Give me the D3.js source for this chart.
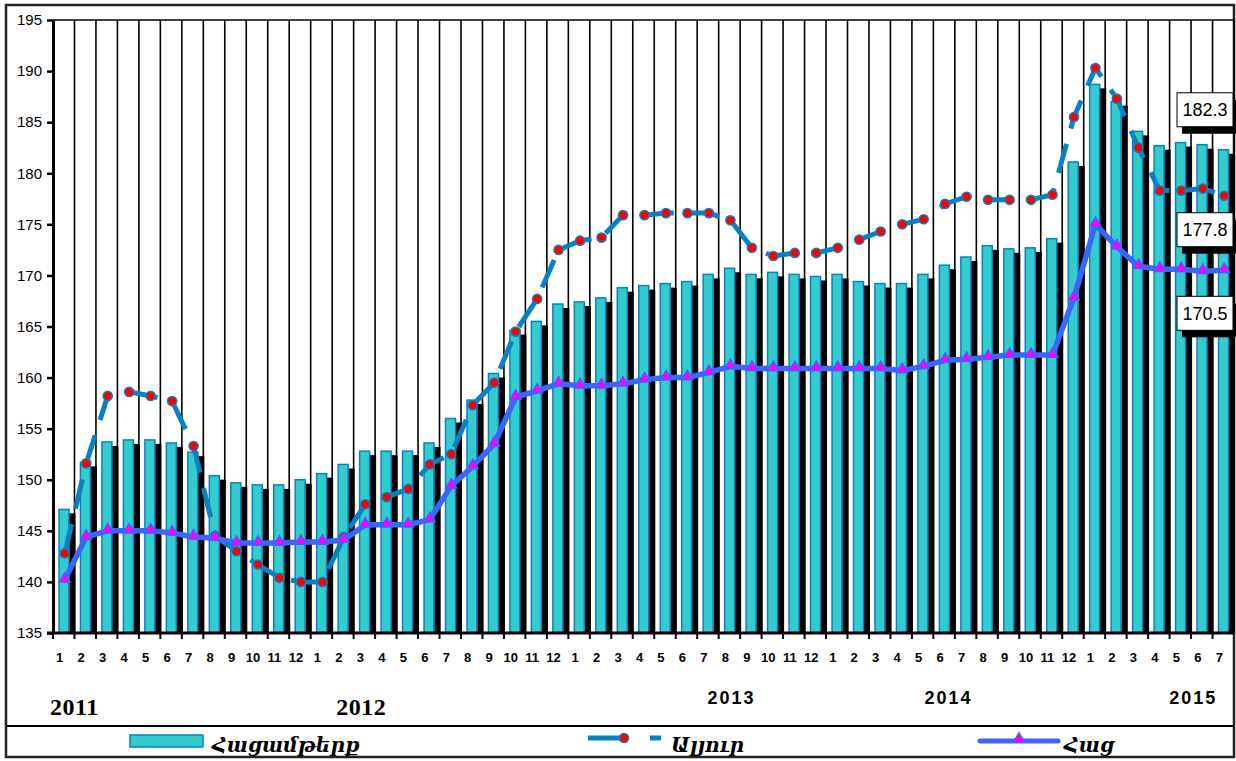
<!DOCTYPE html>
<html>
<head>
<meta charset="utf-8">
<script src="https://cdn.jsdelivr.net/npm/d3@7"></script>
<style>
  body { margin: 0; background: #fff; }
  svg { display: block; }
</style>
</head>
<body>
<svg id="chart" width="1236" height="761"></svg>
<script>
// months Jan 2011 .. Jul 2015
var months = [1,2,3,4,5,6,7,8,9,10,11,12, 1,2,3,4,5,6,7,8,9,10,11,12,
              1,2,3,4,5,6,7,8,9,10,11,12, 1,2,3,4,5,6,7,8,9,10,11,12,
              1,2,3,4,5,6,7];
var years = ["2011", "2012", "2013", "2014", "2015"];

// Հացամթերք (bars)
var bakery = [147.1,151.7,153.7,153.9,153.9,153.6,152.7,150.4,149.7,149.5,149.5,150.0,
              150.6,151.5,152.8,152.8,152.8,153.6,156.0,157.8,160.4,164.6,165.5,167.2,
              167.4,167.8,168.8,169.0,169.2,169.4,170.1,170.7,170.1,170.3,170.1,169.9,
              170.1,169.4,169.2,169.2,170.1,171.0,171.8,172.9,172.6,172.7,173.6,181.1,
              188.7,187.0,184.1,182.7,183.0,182.8,182.3];
// Ալյուր (dashed line)
var flour = [142.8,151.6,158.2,158.6,158.2,157.7,153.3,144.5,143.0,141.7,140.4,140.0,
             140.0,144.4,147.6,148.3,149.1,151.5,152.5,157.3,159.5,164.5,167.7,172.5,
             173.4,173.7,175.9,175.9,176.1,176.1,176.1,175.4,172.7,171.9,172.2,172.2,
             172.7,173.5,174.3,175.0,175.5,177.0,177.7,177.4,177.4,177.4,177.9,185.5,
             190.3,187.3,182.5,178.3,178.3,178.5,177.8];
// Հաց (solid line)
var bread = [140.2,144.4,145.0,145.0,145.0,144.8,144.4,144.3,143.8,143.8,143.8,143.9,
             143.9,144.1,145.6,145.6,145.6,146.1,149.4,151.3,153.5,158.1,158.7,159.4,
             159.2,159.2,159.4,159.8,160.0,160.0,160.5,161.1,160.9,160.9,160.9,160.9,
             160.9,160.9,160.9,160.7,161.1,161.7,161.8,162.0,162.2,162.2,162.2,167.8,
             175.0,172.8,170.9,170.6,170.6,170.4,170.5];
var seriesNames = ["Հացամթերք", "Ալյուր", "Հաց"];

var svg = d3.select("#chart");
var plotL = 53, plotR = 1234, plotT = 20, plotB = 633;

var x = d3.scaleBand()
    .domain(d3.range(months.length))
    .range([plotL, plotR]);
var y = d3.scaleLinear()
    .domain([135, 195])
    .range([plotB, plotT]);
var step = x.step();

var teal = "#33cccc", edge = "#0a80c4", flourCol = "#0a80c4", breadCol = "#3a66ff";

// outer frame + legend separator
svg.append("rect")
    .attr("x", 6).attr("y", 5).attr("width", 1228).attr("height", 752)
    .attr("fill", "#fff").attr("stroke", "#222").attr("stroke-width", 2.5);
svg.append("line")
    .attr("x1", 6).attr("x2", 1234).attr("y1", 726).attr("y2", 726)
    .attr("stroke", "#000").attr("stroke-width", 2);

// plot top + vertical grid at every month boundary
svg.append("line")
    .attr("x1", plotL).attr("x2", plotR).attr("y1", plotT).attr("y2", plotT)
    .attr("stroke", "#000").attr("stroke-width", 1.5);
svg.append("g").selectAll("line")
    .data(d3.range(1, months.length + 1))
  .enter().append("line")
    .attr("x1", function(i) { return plotL + i * step; })
    .attr("x2", function(i) { return plotL + i * step; })
    .attr("y1", plotT).attr("y2", plotB)
    .attr("stroke", "#000").attr("stroke-width", 1.6);

// bars with a black drop shadow
var barX = function(i) { return x(i) + 6; }, barW = 10;
svg.append("g").selectAll("rect")
    .data(bakery)
  .enter().append("rect")
    .attr("x", function(d, i) { return barX(i) + 6.5; })
    .attr("y", function(d) { return y(d) + 4; })
    .attr("width", barW)
    .attr("height", function(d) { return plotB - y(d) - 4; })
    .attr("fill", "#000");
svg.append("g").selectAll("rect")
    .data(bakery)
  .enter().append("rect")
    .attr("x", function(d, i) { return barX(i); })
    .attr("y", function(d) { return y(d); })
    .attr("width", barW)
    .attr("height", function(d) { return plotB - y(d); })
    .attr("fill", teal)
    .attr("stroke", edge).attr("stroke-width", 1.5);

var cx = function(i) { return x(i) + step / 2 + 1; };
var line = d3.line()
    .x(function(d, i) { return cx(i); })
    .y(function(d) { return y(d); });

// Ալյուր
svg.append("path")
    .datum(flour)
    .attr("d", line)
    .attr("fill", "none")
    .attr("stroke", flourCol).attr("stroke-width", 5)
    .attr("stroke-dasharray", "30,16");
svg.append("g").selectAll("circle")
    .data(flour)
  .enter().append("circle")
    .attr("cx", function(d, i) { return cx(i); })
    .attr("cy", function(d) { return y(d); })
    .attr("r", 4.6)
    .attr("fill", "#ff0000")
    .attr("stroke", flourCol).attr("stroke-width", 1.5);

// Հաց
svg.append("path")
    .datum(bread)
    .attr("d", line)
    .attr("fill", "none")
    .attr("stroke", breadCol).attr("stroke-width", 5.5)
    .attr("stroke-linejoin", "round");
var tri = d3.symbol().type(d3.symbolTriangle).size(55);
svg.append("g").selectAll("path")
    .data(bread)
  .enter().append("path")
    .attr("d", tri)
    .attr("transform", function(d, i) { return "translate(" + cx(i) + "," + (y(d) - 1) + ")"; })
    .attr("fill", "#ff00ff")
    .attr("stroke", breadCol).attr("stroke-width", 1.2);

// y axis
var yAxis = svg.append("g")
    .attr("transform", "translate(" + plotL + ",0)")
    .call(d3.axisLeft(y).tickValues(d3.range(135, 196, 5)).tickSize(6).tickPadding(5).tickSizeOuter(0));
yAxis.select(".domain").attr("stroke", "#000").attr("stroke-width", 3);
yAxis.selectAll(".tick line").attr("stroke-width", 2.5);
yAxis.selectAll("text")
    .attr("font-family", "Liberation Sans, Arial, sans-serif")
    .attr("font-size", 15)
    .attr("fill", "#000");

// x axis: ticks on month boundaries, labels under each month
svg.append("line")
    .attr("x1", plotL - 6).attr("x2", plotR).attr("y1", plotB).attr("y2", plotB)
    .attr("stroke", "#000").attr("stroke-width", 3);
svg.append("g").selectAll("line")
    .data(d3.range(months.length))
  .enter().append("line")
    .attr("x1", function(i) { return x(i); })
    .attr("x2", function(i) { return x(i); })
    .attr("y1", plotB).attr("y2", plotB + 6)
    .attr("stroke", "#000").attr("stroke-width", 2);
svg.append("g").selectAll("text")
    .data(months)
  .enter().append("text")
    .attr("x", function(d, i) { return cx(i) - 5; })
    .attr("y", 662)
    .attr("text-anchor", "middle")
    .attr("font-family", "Liberation Sans, Arial, sans-serif")
    .attr("font-size", 13)
    .attr("font-weight", "bold")
    .text(function(d) { return d; });

// year captions (hand placed in the original)
var yearAt = [0, 14.35, 31.6, 41.7, 53.1];
svg.append("g").selectAll("text")
    .data(years)
  .enter().append("text")
    .attr("x", function(d, i) { return i === 0 ? 50 : x(0) + yearAt[i] * step; })
    .attr("y", function(d, i) { return i < 2 ? 715 : 704; })
    .attr("text-anchor", function(d, i) { return i === 0 ? "start" : "middle"; })
    .attr("font-family", function(d, i) { return i < 2 ? "Liberation Serif, Times New Roman, serif" : "Liberation Sans, Arial, sans-serif"; })
    .attr("font-size", function(d, i) { return i < 2 ? 24 : 18; })
    .attr("letter-spacing", function(d, i) { return i < 2 ? 0.5 : 2; })
    .attr("font-weight", "bold")
    .text(function(d) { return d; });

// value boxes for the last month
var last = months.length - 1;
var boxes = [
  {v: bakery[last], dy: -57},
  {v: flour[last], dy: 17},
  {v: bread[last], dy: 26}
];
var bx = 1177, bw = 56, bh = 34;
var box = svg.append("g").selectAll("g")
    .data(boxes)
  .enter().append("g")
    .attr("transform", function(d) { return "translate(" + bx + "," + (y(d.v) + d.dy) + ")"; });
box.append("rect")
    .attr("x", 5).attr("y", 7).attr("width", bw).attr("height", bh)
    .attr("fill", "#000");
box.append("rect")
    .attr("width", bw).attr("height", bh)
    .attr("fill", "#fff").attr("stroke", "#000").attr("stroke-width", 1);
box.append("text")
    .attr("x", bw / 2).attr("y", bh / 2 + 6.5)
    .attr("text-anchor", "middle")
    .attr("font-family", "Liberation Sans, Arial, sans-serif")
    .attr("font-size", 18)
    .text(function(d) { return d.v.toFixed(1); });

// legend
var lg = svg.append("g");
var legendFont = "DejaVu Serif, serif";
lg.append("rect")
    .attr("x", 130).attr("y", 735).attr("width", 73).attr("height", 12)
    .attr("fill", teal).attr("stroke", edge).attr("stroke-width", 1.5);
lg.append("text").attr("x", 212).attr("y", 752).text(seriesNames[0]);

lg.append("line")
    .attr("x1", 588).attr("x2", 624).attr("y1", 738).attr("y2", 738)
    .attr("stroke", flourCol).attr("stroke-width", 5);
lg.append("circle")
    .attr("cx", 624).attr("cy", 738).attr("r", 4.6)
    .attr("fill", "#ff0000").attr("stroke", flourCol).attr("stroke-width", 1.5);
lg.append("line")
    .attr("x1", 650).attr("x2", 661).attr("y1", 738).attr("y2", 738)
    .attr("stroke", flourCol).attr("stroke-width", 5);
lg.append("text").attr("x", 671).attr("y", 752).text(seriesNames[1]);

lg.append("line")
    .attr("x1", 980).attr("x2", 1058).attr("y1", 741).attr("y2", 741)
    .attr("stroke", breadCol).attr("stroke-width", 5)
    .attr("stroke-linecap", "round");
lg.append("path")
    .attr("d", tri)
    .attr("transform", "translate(1019,739)")
    .attr("fill", "#ff00ff").attr("stroke", breadCol).attr("stroke-width", 1.2);
lg.append("text").attr("x", 1064).attr("y", 752).text(seriesNames[2]);

lg.selectAll("text")
    .attr("font-family", legendFont)
    .attr("font-style", "italic")
    .attr("font-weight", "bold")
    .attr("font-size", 20);
</script>
</body>
</html>
